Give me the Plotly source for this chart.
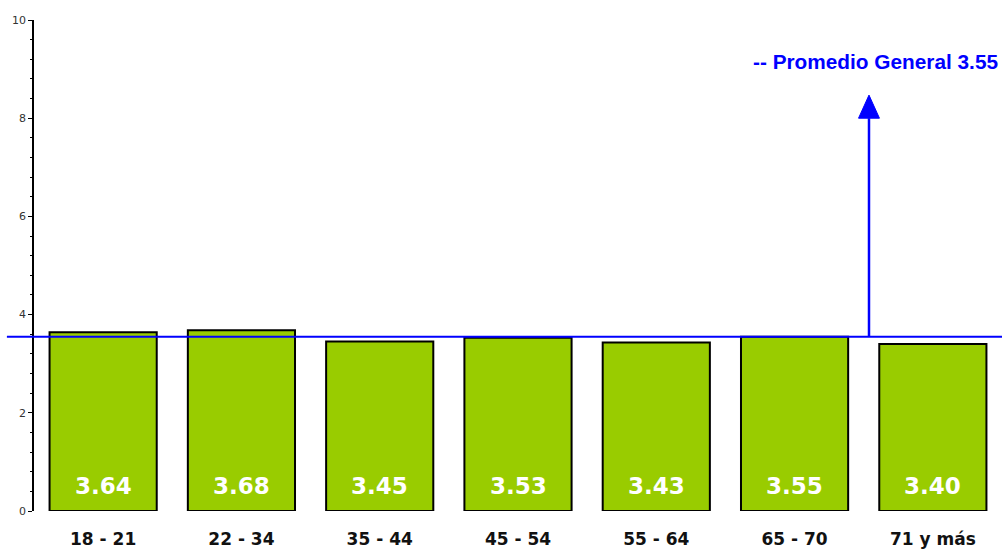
import plotly.graph_objects as go

categories = ["18 - 21", "22 - 34", "35 - 44", "45 - 54", "55 - 64", "65 - 70", "71 y más"]
values = [3.64, 3.68, 3.45, 3.53, 3.43, 3.55, 3.40]
average = 3.55
avg_label = "-- Promedio General 3.55"
y_ticks = [0, 2, 4, 6, 8, 10]

fig = go.Figure()
fig.add_trace(go.Bar(
    x=categories, y=values,
    marker=dict(color="#99CC00", line=dict(color="#000000", width=2)),
    hoverinfo="x+y",
))

# value labels near bar bottoms
for c, v in zip(categories, values):
    fig.add_annotation(x=c, y=0, xref="x", yref="y", text=f"{v:.2f}", showarrow=False,
                       yanchor="bottom", yshift=10,
                       font=dict(family="DejaVu Sans", size=23, color="white", weight="bold"))

# average line
fig.add_shape(type="line", xref="paper", yref="y", x0=-0.028, x1=1.0, y0=average, y1=average,
              line=dict(color="#0000FF", width=2), layer="above")
# arrow shaft
ax_x = 0.8626
tip_y = 8.47
hh = 0.47
hw = 0.0108
fig.add_shape(type="line", xref="paper", yref="y", x0=ax_x, x1=ax_x, y0=average, y1=tip_y - hh,
              line=dict(color="#0000FF", width=2.5))
# arrow head
fig.add_shape(type="path", xref="paper", yref="y",
              path=f"M {ax_x - hw} {tip_y - hh} L {ax_x + hw} {tip_y - hh} L {ax_x} {tip_y} Z",
              fillcolor="#0000FF", line=dict(color="#0000FF", width=1))

fig.add_annotation(xref="paper", yref="y", x=0.741, y=9.16, text=f"<b>{avg_label}</b>",
                   showarrow=False, xanchor="left", yanchor="middle",
                   font=dict(family="Liberation Sans", size=20.8, color="#0000FF"))

fig.update_layout(
    width=1002, height=549,
    margin=dict(l=34, r=0, t=20, b=38, autoexpand=False),
    plot_bgcolor="white", paper_bgcolor="white",
    bargap=0.225, showlegend=False,
)
fig.update_xaxes(
    showgrid=False, showline=False, ticks="", ticklabelstandoff=16, automargin=False,
    tickfont=dict(family="DejaVu Sans", size=17, color="#111111", weight="bold"),
)
fig.update_yaxes(
    range=[0, 10], tickvals=y_ticks, showgrid=False, zeroline=False, automargin=False,
    showline=True, linecolor="black", linewidth=1.5,
    ticks="outside", ticklen=4, tickcolor="black",
    tickfont=dict(family="DejaVu Sans", size=11, color="#333333"),
    minor=dict(dtick=0.4, ticks="outside", ticklen=2, tickcolor="black", showgrid=False),
)

fig.write_html("out.html", config={"displayModeBar": False},
               post_script="document.body.style.margin='0';")
